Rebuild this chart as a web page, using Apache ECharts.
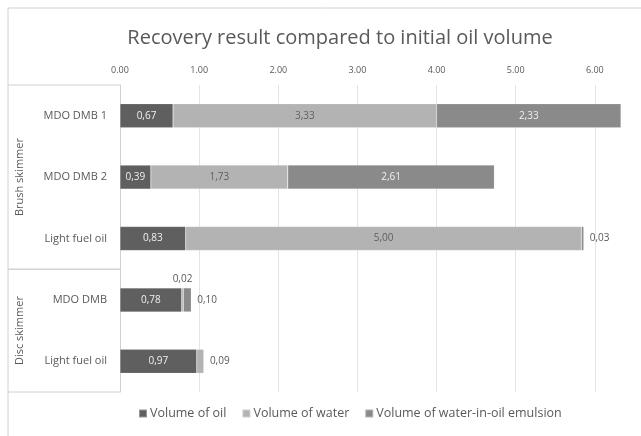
<!DOCTYPE html>
<html>
<head>
<meta charset="utf-8">
<script src="https://cdn.jsdelivr.net/npm/echarts@6/dist/echarts.min.js"></script>
<style>
  html, body { margin: 0; padding: 0; background: #fff; }
  #chart { width: 641px; height: 436px; }
</style>
</head>
<body>
<div id="chart"></div>
<script>
// 数据
var categories = ['MDO DMB 1', 'MDO DMB 2', 'Light fuel oil', 'MDO DMB', 'Light fuel oil'];
var groups = ['Brush skimmer', 'Disc skimmer'];
var groupSizes = [3, 2];
var seriesNames = ['Volume of oil', 'Volume of water', 'Volume of water-in-oil emulsion'];
var oil = [0.67, 0.39, 0.83, 0.78, 0.97];
var water = [3.33, 1.73, 5.00, 0.02, 0.09];
var emulsion = [2.33, 2.61, 0.03, 0.10, 0];
var xTicks = [0, 1, 2, 3, 4, 5, 6, 7];

var colors = ['#5f5f5f', '#b3b3b3', '#8a8a8a'];
var insideText = ['#f0f0f0', '#5f5f5f', '#f0f0f0'];
var font = '"Open Sans", "Liberation Sans", sans-serif';
var all = [oil, water, emulsion];

var fmt = function (v) { return v.toFixed(2).replace('.', ','); };

// 小数值标签放在外面：后面还有数据的放上方，否则放右边
var buildData = function (s) {
    return all[s].map(function (v, i) {
        if (!v) return { value: v, label: { show: false } };
        if (v >= 0.2) return v;
        var later = false;
        for (var k = s + 1; k < all.length; k++) { if (all[k][i]) later = true; }
        return {
            value: v,
            label: { position: later ? 'top' : 'right', color: '#595959', distance: later ? 4 : 6 }
        };
    });
};

var chart = echarts.init(document.getElementById('chart'));

var option = {
    animation: false,
    color: colors,
    title: {
        text: 'Recovery result compared to initial oil volume',
        left: 335,
        textAlign: 'center',
        top: 23,
        textStyle: { fontFamily: font, fontSize: 20, fontWeight: 'normal', color: '#595959' }
    },
    legend: {
        data: seriesNames,
        left: 133,
        top: 402,
        icon: 'rect',
        itemWidth: 8,
        itemHeight: 8,
        itemGap: 15,
        textStyle: { fontFamily: font, fontSize: 12.5, color: '#595959', padding: [0, 0, 0, -2] }
    },
    // 最大值7的刻度在画面之外，所以网格宽度超出容器
    grid: { left: 120, top: 85, width: 554, height: 307, outerBoundsMode: 'none' },
    xAxis: {
        type: 'value',
        position: 'top',
        min: xTicks[0],
        max: xTicks[xTicks.length - 1],
        interval: 1,
        axisLine: { show: false },
        axisTick: { show: false },
        axisLabel: {
            fontFamily: font, fontSize: 9, color: '#595959', margin: 10,
            formatter: function (v) { return v.toFixed(2); }
        },
        splitLine: { lineStyle: { color: '#e3e3e3', width: 1 } }
    },
    yAxis: {
        type: 'category',
        inverse: true,
        data: categories,
        axisLine: { show: true, lineStyle: { color: '#d0d0d0' } },
        axisTick: { show: false },
        axisLabel: { fontFamily: font, fontSize: 11, color: '#595959', margin: 13 }
    },
    series: seriesNames.map(function (name, s) {
        return {
            name: name,
            type: 'bar',
            stack: 'total',
            barWidth: 24,
            data: buildData(s),
            itemStyle: { borderColor: 'rgba(255,255,255,0.35)', borderWidth: 0.5 },
            label: {
                show: true,
                position: 'inside',
                fontFamily: font,
                fontSize: 10,
                color: insideText[s],
                formatter: function (p) { return fmt(p.value); }
            }
        };
    })
};

chart.setOption(option);

// 多级分类轴：分组框线和分组名
var c0 = chart.convertToPixel({ yAxisIndex: 0 }, 0);
var c1 = chart.convertToPixel({ yAxisIndex: 0 }, 1);
var band = c1 - c0;
var axisX = chart.convertToPixel({ xAxisIndex: 0 }, 0);
var edgeX = 8;
var lineStyle = { stroke: '#d0d0d0', lineWidth: 1 };
var elements = [
    { type: 'line', shape: { x1: edgeX, y1: 8, x2: 641, y2: 8 }, style: lineStyle, silent: true },
    { type: 'line', shape: { x1: edgeX, y1: 8, x2: edgeX, y2: 436 }, style: lineStyle, silent: true }
];
var start = 0;
groups.forEach(function (g, gi) {
    var yTop = c0 + (start - 0.5) * band;
    var yBot = c0 + (start + groupSizes[gi] - 0.5) * band;
    elements.push({ type: 'line', shape: { x1: edgeX, y1: yTop, x2: axisX, y2: yTop }, style: lineStyle, silent: true });
    elements.push({ type: 'line', shape: { x1: edgeX, y1: yBot, x2: axisX, y2: yBot }, style: lineStyle, silent: true });
    elements.push({
        type: 'text',
        x: 20,
        y: (yTop + yBot) / 2,
        rotation: Math.PI / 2,
        style: {
            text: g, fill: '#595959', font: '11px ' + font,
            align: 'center', verticalAlign: 'middle'
        },
        silent: true
    });
    start += groupSizes[gi];
});
chart.setOption({ graphic: elements });
</script>
</body>
</html>
